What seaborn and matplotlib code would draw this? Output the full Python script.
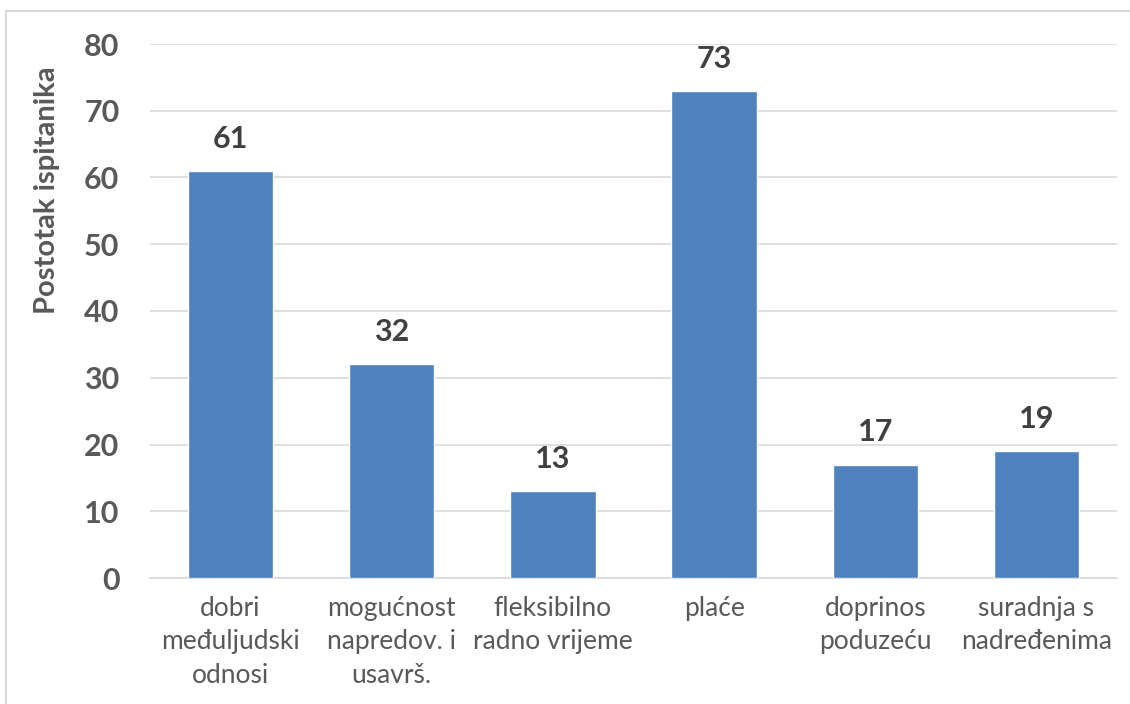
import seaborn as sns
import matplotlib.pyplot as plt
import pandas as pd
from matplotlib.patches import Rectangle

categories = ['dobri\nmeđuljudski\nodnosi', 'mogućnost\nnapredov. i\nusavrš.',
              'fleksibilno\nradno vrijeme', 'plaće', 'doprinos\npoduzeću',
              'suradnja s\nnadređenima']
values = [61, 32, 13, 73, 17, 19]
y_ticks = [0, 10, 20, 30, 40, 50, 60, 70, 80]
y_label = 'Postotak ispitanika'

sns.set_theme(style='white')
plt.rcParams['font.family'] = ['Lato', 'DejaVu Sans']

df = pd.DataFrame({'cat': categories, 'val': values})

fig = plt.figure(figsize=(11.3, 7.04), dpi=100)
ax = fig.add_axes([150 / 1130, 1 - 578 / 704, 967 / 1130, 534 / 704])

sns.barplot(data=df, x='cat', y='val', color='#4F81BD', saturation=1,
            width=0.53, ax=ax, zorder=3)
ax.bar_label(ax.containers[0], fmt='%d', padding=13, fontsize=22,
             fontweight='bold', color='#404040')

ax.set_ylim(0, 80)
ax.set_yticks(y_ticks)
ax.set_xlim(-0.5, len(categories) - 0.5)
ax.grid(axis='y', color='#D9D9D9', linewidth=1.2, zorder=0)
for s in ['top', 'right', 'left']:
    ax.spines[s].set_visible(False)
ax.spines['bottom'].set_color('#D9D9D9')
ax.spines['bottom'].set_linewidth(1.2)

ax.tick_params(axis='y', length=0, pad=22, labelsize=22, labelcolor='#595959')
for t in ax.get_yticklabels():
    t.set_fontweight('bold')
ax.tick_params(axis='x', length=0, pad=13, labelsize=19, labelcolor='#595959')
for t in ax.get_xticklabels():
    t.set_linespacing(1.42)

ax.set_xlabel('')
ax.set_ylabel(y_label, fontsize=21, fontweight='bold', color='#595959')
ax.yaxis.set_label_coords(-0.093, 0.727)

fig.patches.append(Rectangle((6 / 1130, -0.1), 1.1, 1.1 - 11 / 704,
                             transform=fig.transFigure, fill=False,
                             edgecolor='#D9D9D9', linewidth=1.5))

fig.savefig('out.png', dpi=100)
